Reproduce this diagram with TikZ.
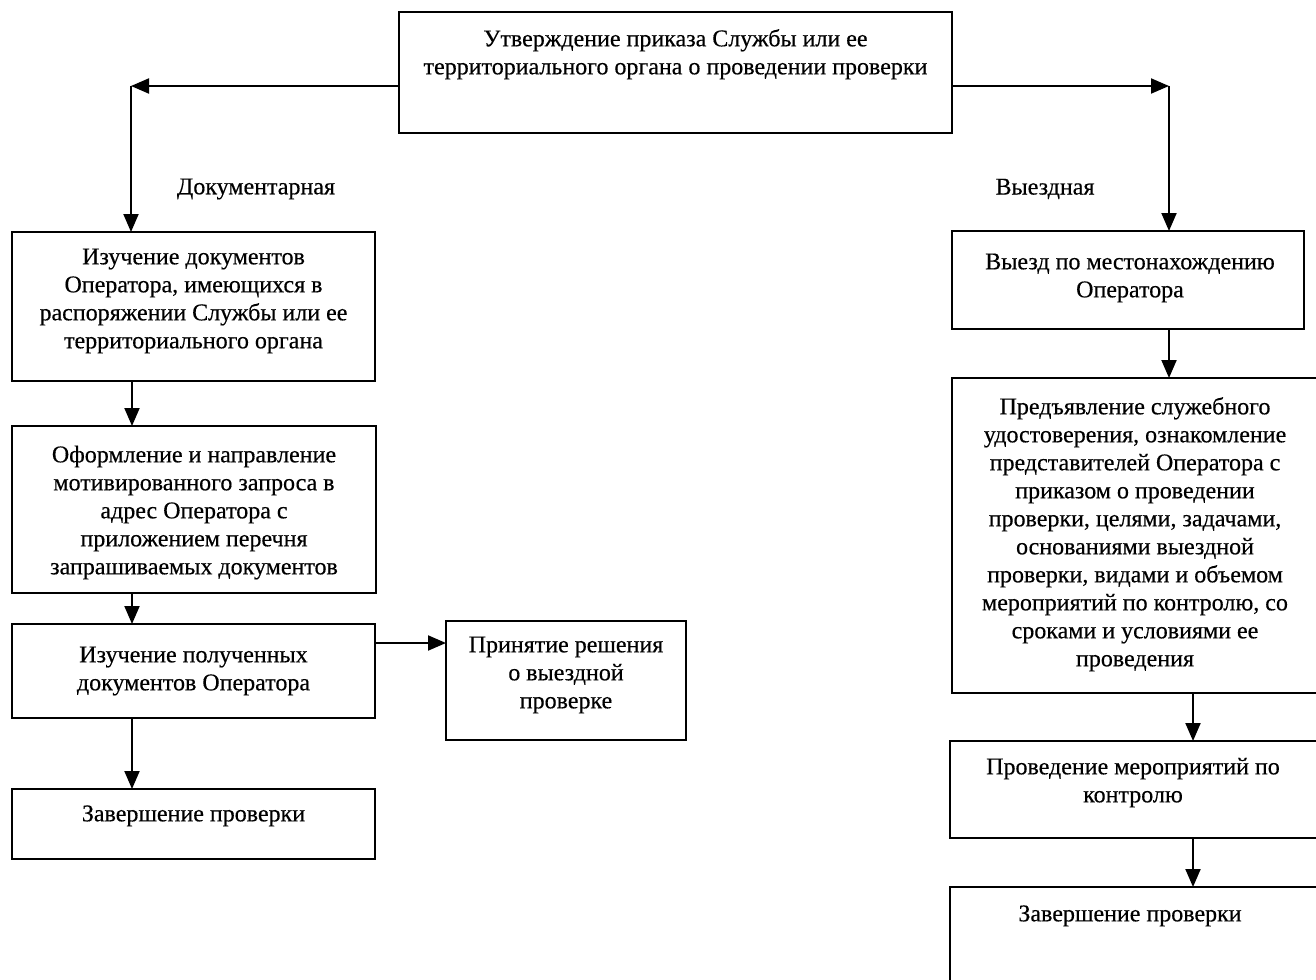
\documentclass[tikz,border=0pt]{standalone}
\usepackage{fontspec}
\setmainfont{Liberation Serif}[FakeBold=0.4]
\usetikzlibrary{arrows.meta}
\begin{document}
\begin{tikzpicture}[x=1pt,y=-1pt,
  box/.style={draw, line width=2pt, inner sep=0pt, outer sep=0pt},
  txt/.style={anchor=north, align=center, inner sep=0pt, font=\fontsize{24}{28}\selectfont},
  arr/.style={line width=2pt, -{Triangle[length=18pt,width=15pt]}},
  lbl/.style={font=\fontsize{24}{28}\selectfont, inner sep=0pt}]
\useasboundingbox (0,0) rectangle (1316,979);
\fill[white] (0,0) rectangle (1316,979);

% boxes
\node[box, minimum width=553pt, minimum height=121pt] (T) at (675.5,72.5) {};
\node[box, minimum width=363pt, minimum height=149pt] (L1) at (193.5,306.5) {};
\node[box, minimum width=364pt, minimum height=167pt] (L2) at (194,509.5) {};
\node[box, minimum width=363pt, minimum height=94pt] (L3) at (193.5,671) {};
\node[box, minimum width=363pt, minimum height=70pt] (L5) at (193.5,824) {};
\node[box, minimum width=240pt, minimum height=119pt] (P) at (566,680.5) {};
\node[box, minimum width=352pt, minimum height=98pt] (R1) at (1128,280) {};
\node[box, minimum width=370pt, minimum height=315pt] (R2) at (1137,535.5) {};
\node[box, minimum width=372pt, minimum height=97pt] (R3) at (1136,789.5) {};
\node[box, minimum width=372pt, minimum height=103pt] (R4) at (1136,938.5) {};

% texts
\node[txt] (tT) at (675.5,26.5) {\strut Утверждение приказа Службы или ее\\территориального органа о проведении проверки};
\node[txt] (tL1) at (193.5,244.5) {\strut Изучение документов\\Оператора, имеющихся в\\распоряжении Службы или ее\\территориального органа};
\node[txt] (tL2) at (194,442.5) {\strut Оформление и направление\\мотивированного запроса в\\адрес Оператора с\\приложением перечня\\запрашиваемых документов};
\node[txt] (tL3) at (193.5,642.5) {\strut Изучение полученных\\документов Оператора};
\node[txt] (tL5) at (193.5,801.5) {\strut Завершение проверки};
\node[txt] (tP) at (566,632.5) {\strut Принятие решения\\о выездной\\проверке};
\node[txt] (tR1) at (1130,249.5) {\strut Выезд по местонахождению\\Оператора};
\node[txt] (tR2) at (1135,394.5) {\strut Предъявление служебного\\удостоверения, ознакомление\\представителей Оператора с\\приказом о проведении\\проверки, целями, задачами,\\основаниями выездной\\проверки, видами и объемом\\мероприятий по контролю, со\\сроками и условиями ее\\проведения};
\node[txt] (tR3) at (1133,754.5) {\strut Проведение мероприятий по\\контролю};
\node[txt] (tR4) at (1130,901.5) {\strut Завершение проверки};

\node[lbl] (lD) at (256,189) {Документарная};
\node[lbl] (lV) at (1045,189) {Выездная};

% connectors
\coordinate (cL) at (131,86);
\coordinate (cR) at (1169,86);
\coordinate (cA) at (132,0);
\coordinate (cB) at (0,643);
\coordinate (cC) at (1193,0);
\draw[arr] (T.west |- cL) -- (cL);
\draw[arr] (cL) -- (cL |- L1.north);
\draw[arr] (T.east |- cR) -- (cR);
\draw[arr] (cR) -- (cR |- R1.north);
\draw[arr] (cA |- L1.south) -- (cA |- L2.north);
\draw[arr] (cA |- L2.south) -- (cA |- L3.north);
\draw[arr] (cA |- L3.south) -- (cA |- L5.north);
\draw[arr] (L3.east |- cB) -- (P.west |- cB);
\draw[arr] (cR |- R1.south) -- (cR |- R2.north);
\draw[arr] (cC |- R2.south) -- (cC |- R3.north);
\draw[arr] (cC |- R3.south) -- (cC |- R4.north);
\end{tikzpicture}
\end{document}
